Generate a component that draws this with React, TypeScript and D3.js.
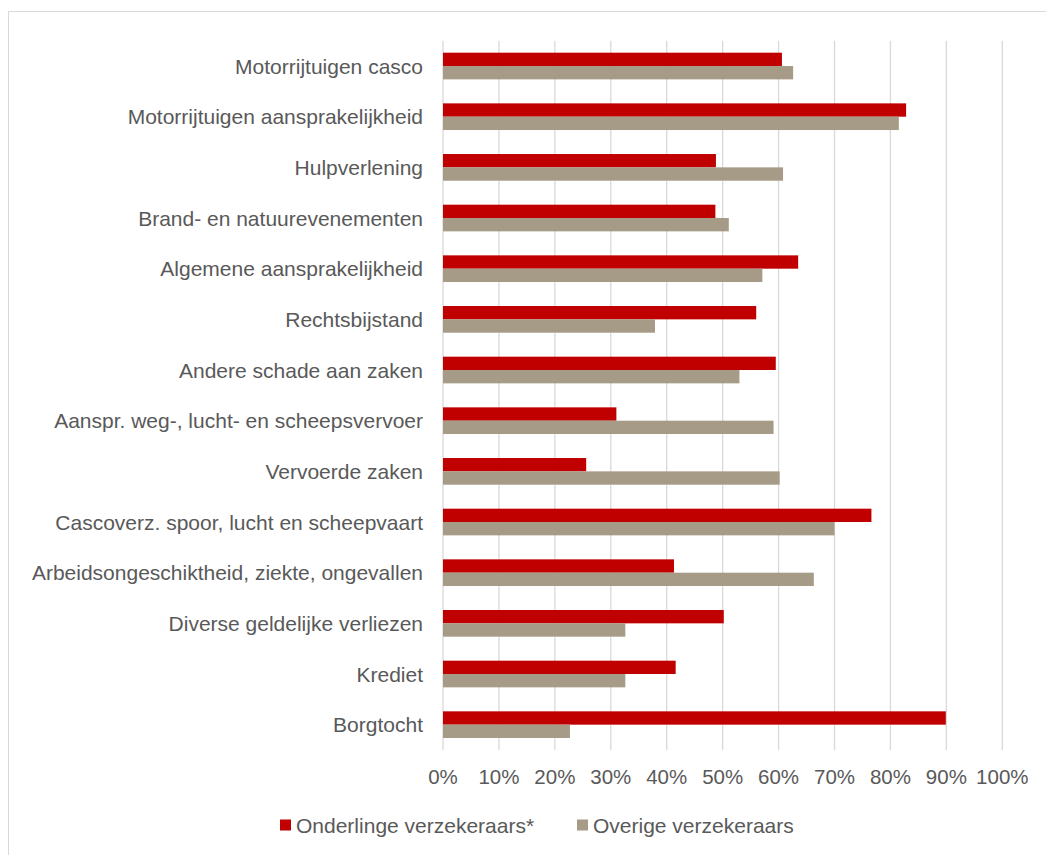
import React from "react";
import * as d3 from "d3";

const categories = [
  "Motorrijtuigen casco",
  "Motorrijtuigen aansprakelijkheid",
  "Hulpverlening",
  "Brand- en natuurevenementen",
  "Algemene aansprakelijkheid",
  "Rechtsbijstand",
  "Andere schade aan zaken",
  "Aanspr. weg-, lucht- en scheepsvervoer",
  "Vervoerde zaken",
  "Cascoverz. spoor, lucht en scheepvaart",
  "Arbeidsongeschiktheid, ziekte, ongevallen",
  "Diverse geldelijke verliezen",
  "Krediet",
  "Borgtocht",
];

const onderlinge = [0.606, 0.828, 0.488, 0.487, 0.635, 0.56, 0.595, 0.31, 0.256, 0.766, 0.413, 0.502, 0.416, 0.899];
const overige = [0.626, 0.815, 0.608, 0.511, 0.571, 0.379, 0.53, 0.591, 0.602, 0.70, 0.663, 0.326, 0.326, 0.227];

const seriesNames = ["Onderlinge verzekeraars*", "Overige verzekeraars"];
const seriesColors = ["#C00000", "#A59B87"];
const xTicks = [0, 0.1, 0.2, 0.3, 0.4, 0.5, 0.6, 0.7, 0.8, 0.9, 1.0];

const W = 1046;
const H = 855;
const FONT = "'Liberation Sans', Arial, sans-serif";
const TEXT = "#595959";

export default function App() {
  const x = d3.scaleLinear().domain([0, 1]).range([443, 1002.3]);
  const y = d3.scaleBand<string>().domain(categories).range([40.7, 750]).paddingInner(0).paddingOuter(0);
  const sub = d3
    .scaleBand<string>()
    .domain(["0", "1"])
    .range([0, y.bandwidth()])
    .paddingInner(0)
    .paddingOuter(0.9);
  const fmt = d3.format(".0%");
  const series = [onderlinge, overige];

  return (
    <svg
      width={W}
      height={H}
      style={{ position: "absolute", left: 0, top: 0, background: "#fff" }}
      fontFamily={FONT}
    >
      <rect x={0} y={0} width={W} height={H} fill="#fff" />
      <rect x={8.5} y={11.5} width={W + 20} height={H + 20} fill="none" stroke="#d9d9d9" strokeWidth={1} />
      {xTicks.map((t) => (
        <line key={t} x1={x(t)} x2={x(t)} y1={40.7} y2={750} stroke="#d9d9d9" strokeWidth={1.3} />
      ))}
      {categories.map((c, i) => (
        <g key={c}>
          {series.map((s, si) => (
            <rect
              key={si}
              x={x(0)}
              y={(y(c) as number) + (sub(String(si)) as number)}
              width={x(s[i]) - x(0)}
              height={sub.bandwidth()}
              fill={seriesColors[si]}
            />
          ))}
          <text
            x={423}
            y={(y(c) as number) + y.bandwidth() / 2}
            dy="0.36em"
            textAnchor="end"
            fontSize={21}
            fill={TEXT}
          >
            {c}
          </text>
        </g>
      ))}
      {xTicks.map((t) => (
        <text key={"l" + t} x={x(t)} y={784} textAnchor="middle" fontSize={20.5} fill={TEXT}>
          {fmt(t)}
        </text>
      ))}
      {seriesNames.map((n, i) => {
        const lx = i === 0 ? 280 : 577;
        return (
          <g key={n}>
            <rect x={lx} y={819.5} width={11} height={11} fill={seriesColors[i]} />
            <text x={lx + 16} y={832.5} fontSize={21} fill={TEXT}>
              {n}
            </text>
          </g>
        );
      })}
    </svg>
  );
}
